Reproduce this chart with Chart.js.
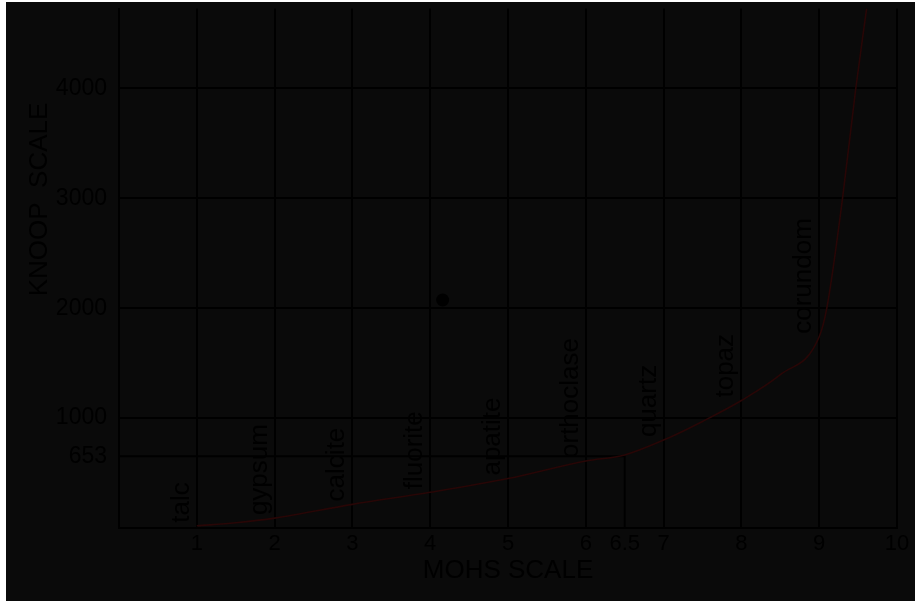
<!DOCTYPE html>
<html><head><meta charset="utf-8">
<script src="https://cdn.jsdelivr.net/npm/chart.js@4/dist/chart.umd.min.js"></script>
<style>
html,body{margin:0;padding:0;background:#fff;}
#wrap{position:absolute;left:6px;top:2px;width:909px;height:599px;background:#0a0a0a;}
canvas{display:block;}
</style></head><body>
<div id="wrap"><canvas id="c" width="909" height="599"></canvas></div>
<script>
// ---- data ----
const mohsValues  = [1, 1.5, 2, 3, 4, 5, 6, 6.5, 7, 7.5, 8, 8.5, 9, 9.1, 9.3, 9.47, 9.61];
const knoopValues = [20, 48, 90, 215, 325, 450, 610, 665, 800, 970, 1160, 1395, 1740, 2010, 3000, 4000, 4730];
const xTickValues = [1, 2, 3, 4, 5, 6, 6.5, 7, 8, 9, 10];
const yTickValues = [653, 1000, 2000, 3000, 4000];
const minerals    = ['talc', 'gypsum', 'calcite', 'fluorite', 'apatite', 'orthoclase', 'quartz', 'topaz', 'corundom'];
const mineralMohs = [1, 2, 3, 4, 5, 6, 7, 8, 9];
const quartzMohs  = 6.5;
const quartzKnoop = 653;
const loosePoint  = [{x: 4.16, y: 2075}];
const xTitle = 'MOHS SCALE';
const yTitle = 'KNOOP  SCALE';

const FONT = '"Liberation Sans", Arial, sans-serif';
const INK = '#000';

const curve = mohsValues.map((m, i) => ({x: m, y: knoopValues[i]}));
const refLine = [{x: 0, y: quartzKnoop}, {x: quartzMohs, y: quartzKnoop}, {x: quartzMohs, y: 0}];

const annot = {
  id: 'annot',
  afterDatasetsDraw(chart) {
    const {ctx, scales: {x, y}, chartArea} = chart;
    ctx.save();
    ctx.fillStyle = INK;
    ctx.font = '26px ' + FONT;
    ctx.textAlign = 'left';
    ctx.textBaseline = 'alphabetic';
    minerals.forEach((name, i) => {
      const m = mineralMohs[i];
      const k = knoopValues[mohsValues.indexOf(m)];
      const px = x.getPixelForValue(m) - 8;
      const py = y.getPixelForValue(k) - 3;
      ctx.save();
      ctx.translate(px, py);
      ctx.rotate(-Math.PI / 2);
      ctx.fillText(name, 0, 0);
      ctx.restore();
    });
    ctx.textAlign = 'center';
    ctx.textBaseline = 'middle';
    ctx.save();
    ctx.translate(chartArea.left - 79, chartArea.top + 191);
    ctx.rotate(-Math.PI / 2);
    ctx.fillText(yTitle, 0, 0);
    ctx.restore();
    ctx.restore();
  }
};

new Chart(document.getElementById('c'), {
  type: 'scatter',
  data: {
    datasets: [
      {data: curve, showLine: true, borderColor: 'rgb(40,6,6)', borderWidth: 1.6,
       pointRadius: 0, cubicInterpolationMode: 'monotone', order: 1},
      {data: refLine, showLine: true, borderColor: INK, borderWidth: 2, pointRadius: 0, tension: 0, order: 2},
      {data: loosePoint, showLine: false, pointRadius: 6.5, backgroundColor: INK, borderWidth: 0, order: 0}
    ]
  },
  options: {
    responsive: false,
    animation: false,
    devicePixelRatio: 1,
    layout: {padding: {left: 0, top: 0, right: 18, bottom: 0}},
    plugins: {legend: {display: false}, tooltip: {enabled: false}},
    scales: {
      x: {
        type: 'linear', min: 0, max: 10,
        afterBuildTicks: s => { s.ticks = xTickValues.map(v => ({value: v})); },
        afterFit: s => { s.height = 73; s.paddingLeft = 0; s.paddingRight = 0; },
        ticks: {autoSkip: false, maxRotation: 0, color: INK, padding: 3,
                font: {size: 22, family: FONT}, callback: v => String(v)},
        grid: {color: c => (c.tick && c.tick.value === quartzMohs) ? 'rgba(0,0,0,0)' : INK,
               lineWidth: 2, drawTicks: false},
        border: {display: true, color: INK, width: 2},
        title: {display: true, text: xTitle, color: INK, font: {size: 26, family: FONT},
                padding: {top: 0, bottom: 15}}
      },
      y: {
        type: 'linear', min: 0, max: 4728,
        afterBuildTicks: s => { s.ticks = yTickValues.map(v => ({value: v})); },
        afterFit: s => { s.width = 113; s.paddingTop = 0; s.paddingBottom = 0; },
        ticks: {color: INK, padding: 12, font: {size: 23, family: FONT}, callback: v => String(v)},
        grid: {color: c => (c.tick && c.tick.value === quartzKnoop) ? 'rgba(0,0,0,0)' : INK,
               lineWidth: 2, drawTicks: false},
        border: {display: true, color: INK, width: 2}
      }
    }
  },
  plugins: [annot]
});
</script>
</body></html>
